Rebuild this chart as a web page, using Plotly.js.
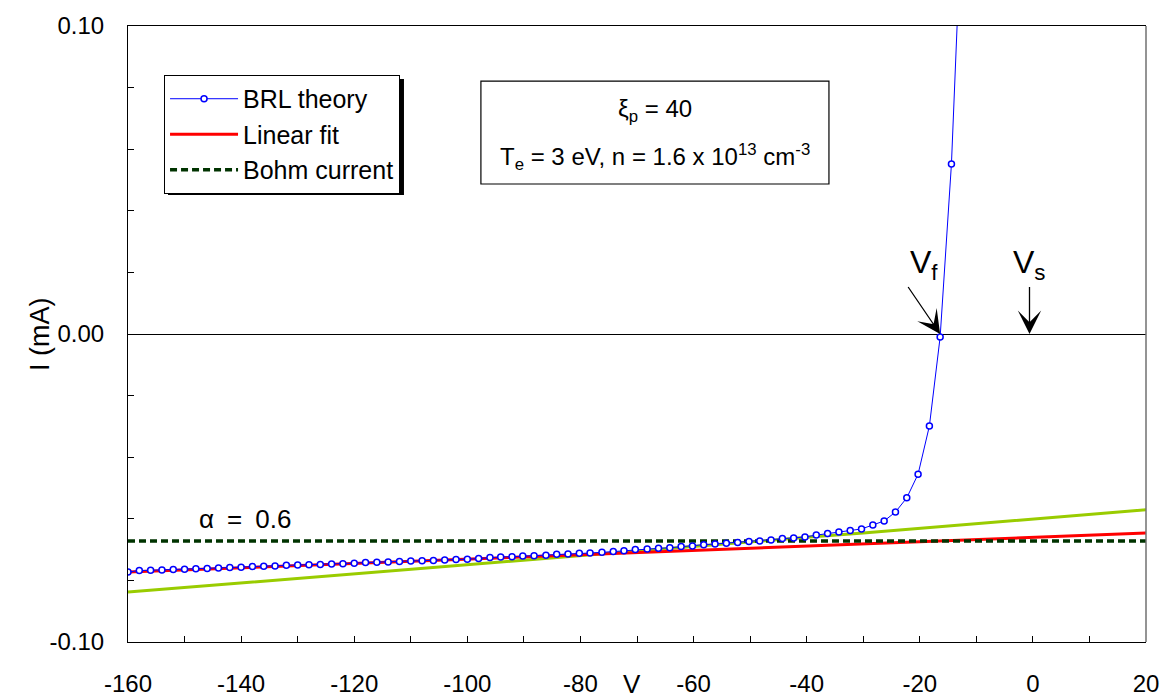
<!DOCTYPE html>
<html>
<head>
<meta charset="utf-8">
<script src="https://cdn.plot.ly/plotly-3.0.1.min.js"></script>
<style>html,body{margin:0;padding:0;background:#fff;}#chart{width:1163px;height:700px;}</style>
</head>
<body>
<div id="chart"></div>
<script>
// BRL theory (probe voltage V, current I in mA)
const V_theory = [-160,-158,-156,-154,-152,-150,-148,-146,-144,-142,-140,-138,-136,-134,-132,-130,-128,-126,-124,-122,-120,-118,-116,-114,-112,-110,-108,-106,-104,-102,-100,-98,-96,-94.1,-92.1,-90.2,-88.2,-86.1,-84.2,-82.2,-80.2,-78.3,-76.2,-74.2,-72.3,-70.3,-68.2,-66.2,-64.2,-62.2,-60.2,-58.2,-56.2,-54.2,-52.2,-50.2,-48.3,-46.3,-44.3,-42.3,-40.3,-38.3,-36.3,-34.3,-32.3,-30.3,-28.3,-26.3,-24.3,-22.3,-20.3,-18.3,-16.4,-14.4,-12.4];
const I_theory = [-0.0773,-0.0768,-0.0767,-0.0766,-0.0765,-0.0764,-0.0762,-0.0761,-0.0760,-0.0758,-0.0757,-0.0755,-0.0754,-0.0753,-0.0751,-0.0750,-0.0749,-0.0748,-0.0747,-0.0746,-0.0744,-0.0742,-0.0741,-0.0740,-0.0739,-0.0737,-0.0736,-0.0735,-0.0734,-0.0732,-0.0731,-0.0729,-0.0726,-0.0724,-0.0723,-0.0721,-0.0720,-0.0718,-0.0715,-0.0714,-0.0712,-0.0711,-0.0709,-0.0706,-0.0704,-0.0700,-0.0698,-0.0696,-0.0694,-0.0690,-0.0688,-0.0684,-0.0682,-0.0679,-0.0677,-0.0674,-0.0672,-0.0669,-0.0664,-0.0662,-0.0659,-0.0653,-0.0648,-0.0643,-0.0638,-0.0633,-0.0620,-0.0607,-0.0578,-0.0532,-0.0455,-0.0299,-0.0010,0.0552,0.1450];

// Linear fit
const V_fit = [-160,-150,-140,-130,-120,-110,-100,-90,-80,-70,-60,-50,-40,-30,-20,-10,0,10,20];
const I_fit = [-0.0773,-0.0766,-0.0759,-0.0752,-0.0745,-0.0738,-0.0731,-0.0724,-0.0717,-0.0710,-0.0703,-0.0696,-0.0689,-0.0681,-0.0674,-0.0667,-0.0660,-0.0653,-0.0646];

// Green curve (no legend entry)
const V_green = [-160,-150,-140,-130,-120,-110,-100,-90,-80,-70,-60,-50,-40,-30,-20,-10,0,10,20];
const I_green = [-0.0838,-0.0823,-0.0808,-0.0794,-0.0779,-0.0764,-0.0749,-0.0734,-0.0720,-0.0705,-0.0690,-0.0675,-0.0660,-0.0646,-0.0631,-0.0616,-0.0601,-0.0586,-0.0571];

// Bohm current
const V_bohm = [-160, 20];
const I_bohm = [-0.0672, -0.0672];

// Tick labels
const xTickVals = [-160,-140,-120,-100,-80,-60,-40,-20,0,20];
const xTickText = ['-160','-140','-120','-100','-80','-60','-40','-20','0','20'];
const xMinorVals = [-150,-130,-110,-90,-70,-50,-30,-10,10];
const yTickVals = [-0.10,0,0.10];
const yTickText = ['-0.10','0.00','0.10'];
const yMinorVals = [-0.08,-0.06,-0.04,-0.02,0.02,0.04,0.06,0.08];

const FONT = 'Liberation Sans, Arial, sans-serif';

const traces = [
  {x: V_green, y: I_green, mode: 'lines', name: 'Simulation', showlegend: false,
   line: {color: '#99CC00', width: 3}, hoverinfo: 'skip'},
  {x: V_fit, y: I_fit, mode: 'lines', name: 'Linear fit', legendrank: 2,
   line: {color: '#FF0000', width: 3}},
  {x: V_bohm, y: I_bohm, mode: 'lines', name: 'Bohm current', legendrank: 3,
   line: {color: '#003300', width: 3.5, dash: '7px,4px'}},
  {x: V_theory, y: I_theory, mode: 'lines+markers', name: 'BRL theory', legendrank: 1,
   line: {color: '#0000FF', width: 1},
   marker: {symbol: 'circle', size: 6, color: '#FFFFFF', line: {color: '#0000FF', width: 1.5}}}
];

const layout = {
  width: 1163, height: 700,
  margin: {l: 128, r: 17, t: 26, b: 58, pad: 0},
  paper_bgcolor: '#FFFFFF', plot_bgcolor: '#FFFFFF',
  font: {family: FONT, color: '#000000', size: 24},
  showlegend: true,
  legend: {
    x: 0.0354, y: 0.9205, xanchor: 'left', yanchor: 'top',
    bgcolor: '#FFFFFF', bordercolor: '#000000', borderwidth: 1,
    font: {family: FONT, size: 25, color: '#000000'},
    itemwidth: 68, traceorder: 'normal', tracegroupgap: 0
  },
  xaxis: {
    range: [-160, 20], tickmode: 'array', tickvals: xTickVals, ticktext: xTickText,
    ticks: 'inside', ticklen: 6, tickwidth: 1, tickcolor: '#000000',
    minor: {tickmode: 'array', tickvals: xMinorVals, ticks: 'inside', ticklen: 6, tickwidth: 1, tickcolor: '#000000', showgrid: false},
    showline: true, linecolor: '#000000', linewidth: 1, mirror: true,
    showgrid: false, zeroline: false, ticklabelstandoff: 20,
    tickfont: {family: FONT, size: 24, color: '#000000'}
  },
  yaxis: {
    range: [-0.1, 0.1], tickmode: 'array', tickvals: yTickVals, ticktext: yTickText,
    ticks: 'inside', ticklen: 6, tickwidth: 1, tickcolor: '#000000',
    minor: {tickmode: 'array', tickvals: yMinorVals, ticks: 'inside', ticklen: 6, tickwidth: 1, tickcolor: '#000000', showgrid: false},
    showline: true, linecolor: '#000000', linewidth: 1,
    showgrid: false, zeroline: true, zerolinecolor: '#000000', zerolinewidth: 1,
    ticklabelstandoff: 18,
    tickfont: {family: FONT, size: 24, color: '#000000'}
  },
  shapes: [
    // right border (grey)
    {type: 'line', xref: 'paper', yref: 'paper', x0: 1, x1: 1, y0: 0, y1: 1,
     line: {color: '#707070', width: 1.5}},
    // legend shadow
    {type: 'rect', xref: 'paper', yref: 'paper', x0: 0.0393, x1: 0.2711, y0: 0.7256, y1: 0.914,
     fillcolor: '#000000', line: {width: 0}, layer: 'above'},
    // parameter box
    {type: 'rect', xref: 'x', yref: 'y', x0: -97.6, x1: -36.06, y0: 0.0487, y1: 0.0821,
     fillcolor: '#FFFFFF', line: {color: '#000000', width: 1.2}, layer: 'above'}
  ],
  annotations: [
    {x: 0, y: 0.5, xref: 'paper', yref: 'paper', xshift: -88, xanchor: 'center', yanchor: 'middle',
     showarrow: false, textangle: -90, text: 'I (mA)', font: {family: FONT, size: 27}},
    {x: -66.8, y: 0.0727, xref: 'x', yref: 'y', showarrow: false,
     text: 'ξ<sub>p</sub> = 40', font: {family: FONT, size: 24}},
    {x: -66.8, y: 0.0575, xref: 'x', yref: 'y', showarrow: false,
     text: 'T<sub>e</sub> = 3 eV, n = 1.6 x 10<sup>13</sup> cm<sup>-3</sup>', font: {family: FONT, size: 24}},
    {x: -139.3, y: -0.0601, xref: 'x', yref: 'y', showarrow: false,
     text: 'α\u2002=\u20020.6', font: {family: FONT, size: 26}},
    {x: -16.4, y: 0, xref: 'x', yref: 'y', text: 'V<sub>f</sub>', font: {family: FONT, size: 32},
     showarrow: true, ax: -32, ay: -47, xanchor: 'left', yanchor: 'bottom',
     arrowhead: 3, arrowsize: 3, arrowwidth: 1.3, arrowcolor: '#000000', standoff: 0},
    {x: -0.6, y: 0, xref: 'x', yref: 'y', text: 'V<sub>s</sub>', font: {family: FONT, size: 32},
     showarrow: true, ax: 0, ay: -47, xanchor: 'center', yanchor: 'bottom',
     arrowhead: 3, arrowsize: 3, arrowwidth: 1.3, arrowcolor: '#000000', standoff: 0},
    {x: -70.9, y: 0, xref: 'x', yref: 'paper', yshift: -42, showarrow: false,
     text: 'V', font: {family: FONT, size: 26}, yanchor: 'middle'}
  ]
};

Plotly.newPlot('chart', traces, layout, {staticPlot: true, displayModeBar: false});
</script>
</body>
</html>
